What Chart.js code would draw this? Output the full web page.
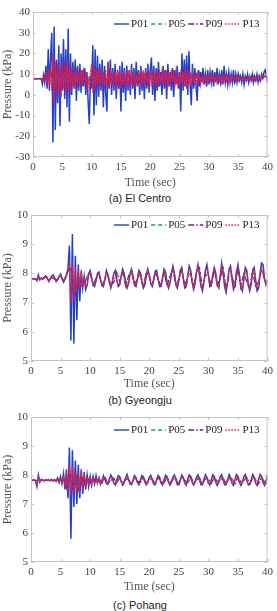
<!DOCTYPE html>
<html lang="en">
<head>
    <meta charset="UTF-8">
    <title>Pressure time histories</title>
    <script src="https://cdn.jsdelivr.net/npm/chart.js"></script>
    <style>
        body { margin: 0; background: #fff; }
        .page { position: relative; width: 277px; height: 611px; overflow: hidden; }
        .page canvas { position: absolute; left: 0; }
        .caption { position: absolute; left: 0; width: 280px; text-align: center; font-family: "Liberation Sans", Arial, sans-serif; font-size: 11px; line-height: 14px; color: #222; }
    </style>
</head>
<body>
<div class="page">
    <canvas id="chartA" width="277" height="190" style="top:0px"></canvas>
    <div class="caption" style="top:191px">(a) El Centro</div>
    <canvas id="chartB" width="277" height="191" style="top:200px"></canvas>
    <div class="caption" style="top:393px">(b) Gyeongju</div>
    <canvas id="chartC" width="277" height="189" style="top:405px"></canvas>
    <div class="caption" style="top:598px">(c) Pohang</div>
</div>

<script>
// ---- data (kPa), sampled at the step given for each group ----
const seriesLabels = ['P01', 'P05', 'P09', 'P13'];
const timeTicks = [0, 5, 10, 15, 20, 25, 30, 35, 40];

// (a) El Centro: P01/P13 every 0.2 s, P05/P09 every 0.5 s
const elCentroFineStep = 0.2;
const elCentroCoarseStep = 0.5;
const elCentroP01 = [
    7.8, 7.9, 7.7, 7.8, 7.9,   7.7, 7.9, 7.8, 5.2, 9.5,   6, 14, 3, 22, 2,   18, 30, -23, 33, -17,
    17, -4, 24, -15, 20,   2, 27, -2, 22, -6,   32, -13, 20, 0, 16,   3, 17, -3, 14, 2,
    15, 1, 12, 4, 13,   0, 11, -3, -14, 9,   3, 24, -10, 22, -5,   19, -1, 15, 2, 17,
    -6, 14, 1, -8, 16,   3, 17, 0, 13, 2,   15, -2, 12, 3, 14,   -8, 16, 1, 13, -3,
    14, 2, 12, 0, 15,   3, 13, -2, 16, 4,   12, 0, 14, 2, 11,   -2, 13, 3, 15, 1,
    12, 18, 0, 14, -3,   13, 2, 16, 4, 11,   0, 14, 3, 12, -2,   15, 4, 11, 2, 13,
    -1, 12, 5, 14, 3,   11, -8, 20, 2, 17,   4, 19, 0, 21, 5,   -5, 15, 3, 13, 5,
    -3, 12, 4, 11, 6,   13, 5, 10, 4, 12,   5, 11, 6, 12, 4,   11, 6, 13, 5, 10,
    6, 12, 5, 14, 6,   10, 5, 11, 6, 10,   6, 12, 5, 10, 6,   10, 7, 9, 6, 10,
    5, 9, 7, 10, 6,   9, 7, 10, 6, 9,   7, 10, 6, 9, 7,   10, 8, 11, 12, 9,
    6
];
const elCentroP13 = [
    7.8, 7.8, 7.8, 7.8, 7.8,   7.8, 7.8, 7.8, 7, 8.5,   7, 11, 5, 13, 4,   13, 2, 20, -5, 16,
    0, 15, 2, 14, -1,   16, 3, 15, 0, 17,   2, 14, 1, 13, 4,   12, 3, 13, 5, 11,
    4, 12, 5, 11, 6,   10, 4, 9, 2, 10,   15, 1, 14, 3, 12,   4, 13, 3, 12, 5,
    11, 4, 12, 3, 16,   4, 12, 5, 11, 4,   11, 5, 10, 4, 12,   3, 11, 5, 12, 4,
    10, 5, 11, 4, 10,   5, 12, 4, 10, 6,   11, 4, 10, 5, 12,   4, 10, 6, 11, 5,
    12, 4, 10, 5, 11,   5, 12, 4, 10, 6,   11, 5, 12, 6, 10,   5, 11, 4, 12, 6,
    10, 5, 11, 6, 10,   4, 12, 5, 11, 4,   13, 3, 12, 5, 11,   4, 10, 6, 9, 6,
    9, 6, 10, 5, 9,   6, 9, 7, 10, 6,   9, 6, 10, 7, 9,   7, 10, 6, 9, 7,
    10, 6, 9, 7, 10,   7, 9, 6, 10, 7,   9, 7, 8, 7, 9,   7, 9, 7, 8, 7,
    9, 7, 8, 7, 9,   7, 8, 7, 9, 7,   8, 7, 9, 7, 8,   9, 8, 9, 10, 8,
    8
];
const elCentroP05 = [
    7.8, 7.8, 7.8, 7.6, 8.2, 6.5, 9.5, 5.8, 10, 6,   9.8, 6.2, 9.5, 6.5, 9.2, 6.8, 9, 6.5, 9.3, 6.2,
    9.8, 6, 9.5, 6.5, 9.2, 6.8, 9.5, 6.5, 9, 6.8,   9.2, 6.6, 9, 7, 9.1, 6.8, 9, 6.9, 9.2, 6.7,
    9.3, 6.6, 9, 7, 9.1, 6.8, 9, 7, 9.2, 6.8,   9.4, 6.5, 9.5, 6.4, 9.2, 7, 8.8, 7.2, 8.6, 7.2,
    8.7, 7.3, 8.5, 7.2, 8.6, 7.4, 8.4, 7.3, 8.5, 7.4,   8.3, 7.5, 8.2, 7.4, 8.3, 7.5, 8.2, 7.6, 8.6, 8.8,
    8
];
const elCentroP09 = [
    7.8, 7.8, 7.8, 7.5, 9, 6, 12, 3, 14, 4,   13, 3, 12, 5, 11, 6, 10, 5, 11, 5,
    12, 4, 11, 5, 10, 6, 11, 5, 10, 6,   10, 5, 11, 6, 10, 5, 11, 6, 10, 5,
    11, 6, 10, 5, 11, 6, 10, 5, 11, 6,   10, 5, 11, 6, 10, 5, 11, 6, 9, 7,
    9, 7, 9, 7, 9, 7, 9, 7, 8, 7,   9, 7, 8, 7, 9, 7, 8, 7, 8, 9,
    8
];

// (b) Gyeongju: P01/P13 every 0.25 s, P05/P09 every 0.5 s
const gyeongjuFineStep = 0.25;
const gyeongjuCoarseStep = 0.5;
const gyeongjuP01 = [
    7.82, 7.82, 7.82, 7.82,  7.75, 7.95, 7.78, 7.85,  7.80, 7.88, 7.92, 7.85,  7.72, 7.80, 7.90, 7.95,
    7.85, 7.72, 7.78, 7.90,  7.98, 7.82, 7.70, 7.80,  7.95, 8.15, 8.95, 5.70,  9.35, 5.60, 8.60, 6.40,
    8.30, 7.05, 8.10, 7.50,  7.90, 7.45, 7.60, 8.00,  8.10, 7.85, 7.60, 7.55,  7.75, 8.00, 8.05, 7.80,
    7.60, 7.55, 7.80, 8.10,  7.95, 7.70, 7.50, 7.70,  8.00, 8.10, 7.80, 7.55,  7.60, 7.90, 8.15, 8.00,
    7.70, 7.50, 7.65, 8.00,  8.15, 7.90, 7.60, 7.55,  7.80, 8.10, 8.00, 7.70,  7.50, 7.60, 7.95, 8.15,
    7.95, 7.65, 7.55, 7.75,  8.05, 8.10, 7.80, 7.55,  7.55, 7.85, 8.15, 8.05,  7.70, 7.50, 7.65, 8.00,
    8.25, 8.00, 7.60, 7.50,  7.75, 8.10, 8.20, 7.85,  7.50, 7.55, 7.90, 8.25,  8.10, 7.70, 7.45, 7.65,
    8.05, 8.30, 7.95, 7.55,  7.40, 7.70, 8.10, 8.30,  7.95, 7.55, 7.60, 7.95,  8.20, 8.00, 7.60, 7.50,
    7.90, 8.35, 8.00, 7.55,  7.35, 7.70, 8.15, 8.25,  7.80, 7.45, 7.60, 8.05,  8.30, 7.95, 7.50, 7.40,
    7.80, 8.20, 8.10, 7.60,  7.40, 7.65, 8.10, 8.20,  7.75, 7.40, 7.50, 8.00,  8.35, 8.30, 7.80, 7.60,
    7.75
];
const gyeongjuP13 = [
    7.82, 7.82, 7.82, 7.82,  7.78, 7.90, 7.80, 7.84,  7.80, 7.86, 7.90, 7.84,  7.75, 7.80, 7.88, 7.92,
    7.84, 7.75, 7.79, 7.88,  7.95, 7.82, 7.73, 7.80,  7.90, 8.05, 8.30, 7.00,  8.40, 7.10, 8.20, 7.40,
    8.10, 7.50, 8.00, 7.60,  7.88, 7.55, 7.65, 7.95,  8.05, 7.85, 7.65, 7.60,  7.75, 7.98, 8.00, 7.80,
    7.65, 7.60, 7.80, 8.05,  7.92, 7.72, 7.55, 7.72,  7.98, 8.05, 7.80, 7.60,  7.65, 7.90, 8.10, 7.98,
    7.72, 7.55, 7.68, 7.98,  8.10, 7.90, 7.65, 7.60,  7.80, 8.05, 7.98, 7.72,  7.55, 7.65, 7.92, 8.10,
    7.92, 7.68, 7.60, 7.76,  8.02, 8.05, 7.80, 7.60,  7.60, 7.85, 8.10, 8.02,  7.72, 7.55, 7.68, 7.98,
    8.18, 7.98, 7.65, 7.55,  7.76, 8.05, 8.15, 7.85,  7.55, 7.60, 7.90, 8.18,  8.05, 7.72, 7.52, 7.68,
    8.02, 8.22, 7.92, 7.60,  7.48, 7.72, 8.05, 8.22,  7.92, 7.60, 7.64, 7.94,  8.15, 7.98, 7.64, 7.55,
    7.90, 8.25, 7.98, 7.60,  7.45, 7.72, 8.10, 8.18,  7.80, 7.52, 7.64, 8.02,  8.22, 7.92, 7.55, 7.48,
    7.80, 8.12, 8.05, 7.64,  7.48, 7.68, 8.05, 8.12,  7.76, 7.48, 7.55, 7.98,  8.22, 8.20, 7.80, 7.64,
    7.72
];
const gyeongjuP05 = [
    7.82, 7.82, 7.80, 7.80, 7.84, 7.88, 7.78, 7.86, 7.80, 7.78,
    7.92, 7.74, 7.95, 8.20, 8.00, 7.30, 7.95, 7.55, 7.60, 7.92,
    8.00, 7.62, 7.85, 7.98, 7.62, 7.78, 7.95, 7.62, 7.68, 8.05,
    7.70, 8.05, 7.58, 7.92, 8.05, 7.62, 7.82, 8.00, 7.58, 8.02,
    7.90, 7.62, 8.05, 7.78, 7.62, 8.05, 7.58, 7.92, 8.12, 7.62,
    7.78, 8.10, 7.58, 7.90, 8.00, 7.55, 8.05, 8.18, 7.52, 7.98,
    7.88, 7.62, 8.10, 7.62, 7.85, 8.15, 7.52, 7.90, 7.92, 7.52,
    8.15, 7.55, 8.00, 7.72, 7.55, 8.05, 7.55, 7.72, 8.12, 7.80,
    7.72
];
const gyeongjuP09 = [
    7.82, 7.82, 7.80, 7.82, 7.83, 7.87, 7.78, 7.85, 7.80, 7.80,
    7.93, 7.76, 7.95, 8.25, 8.05, 7.20, 7.95, 7.55, 7.62, 7.90,
    8.02, 7.62, 7.84, 7.98, 7.60, 7.78, 7.96, 7.60, 7.70, 8.05,
    7.72, 8.06, 7.56, 7.90, 8.06, 7.60, 7.82, 8.02, 7.56, 8.04,
    7.90, 7.60, 8.06, 7.76, 7.60, 8.08, 7.56, 7.92, 8.14, 7.60,
    7.78, 8.12, 7.54, 7.90, 8.02, 7.52, 8.06, 8.20, 7.50, 7.98,
    7.90, 7.60, 8.12, 7.60, 7.84, 8.18, 7.50, 7.90, 7.94, 7.50,
    8.18, 7.52, 8.02, 7.70, 7.52, 8.08, 7.52, 7.72, 8.15, 7.80,
    7.72
];

// (c) Pohang: P01/P13 every 0.25 s, P05/P09 every 0.5 s
const pohangFineStep = 0.25;
const pohangCoarseStep = 0.5;
const pohangP01 = [
    7.82, 7.82, 7.83, 7.82,  7.60, 8.00, 7.75, 7.85,  7.82, 7.80, 7.84, 7.81,  7.83, 7.80, 7.85, 7.79,
    7.84, 7.78, 7.90, 7.74,  7.95, 7.70, 8.05, 7.50,  8.20, 7.20, 8.95, 5.80,  8.85, 6.90, 8.50, 7.00,
    8.35, 7.20, 8.20, 7.35,  8.10, 7.50, 8.00, 7.60,  7.95, 7.65, 7.95, 7.70,  7.98, 7.72, 7.90, 7.68,
    7.80, 7.98, 7.85, 7.70,  7.68, 7.85, 8.00, 7.90,  7.72, 7.66, 7.82, 7.98,  7.95, 7.78, 7.65, 7.72,
    7.90, 8.02, 7.85, 7.68,  7.66, 7.80, 7.98, 7.92,  7.74, 7.66, 7.82, 7.98,  7.94, 7.76, 7.66, 7.74,
    7.92, 7.99, 7.84, 7.68,  7.66, 7.82, 7.99, 7.92,  7.72, 7.65, 7.83, 7.99,  7.95, 7.76, 7.65, 7.74,
    7.93, 8.00, 7.84, 7.67,  7.66, 7.83, 8.00, 7.92,  7.73, 7.65, 7.84, 8.00,  7.95, 7.76, 7.65, 7.74,
    7.93, 8.00, 7.84, 7.66,  7.66, 7.84, 8.01, 7.92,  7.72, 7.65, 7.84, 8.01,  7.95, 7.75, 7.64, 7.75,
    7.94, 8.01, 7.83, 7.66,  7.66, 7.84, 8.02, 7.92,  7.72, 7.64, 7.84, 8.02,  7.95, 7.75, 7.64, 7.75,
    7.95, 8.02, 7.83, 7.66,  7.66, 7.85, 8.02, 7.92,  7.72, 7.64, 7.85, 8.02,  7.95, 7.75, 7.64, 7.76,
    8.00
];
const pohangP13 = [
    7.82, 7.82, 7.82, 7.82,  7.70, 7.95, 7.78, 7.84,  7.82, 7.81, 7.83, 7.81,  7.82, 7.80, 7.84, 7.80,
    7.83, 7.79, 7.87, 7.77,  7.90, 7.74, 7.98, 7.60,  8.10, 7.45, 8.35, 7.30,  8.30, 7.40, 8.15, 7.45,
    8.10, 7.55, 8.00, 7.60,  7.98, 7.65, 7.92, 7.68,  7.90, 7.70, 7.90, 7.72,  7.92, 7.74, 7.88, 7.72,
    7.80, 7.93, 7.84, 7.73,  7.72, 7.84, 7.95, 7.88,  7.74, 7.70, 7.82, 7.93,  7.91, 7.78, 7.70, 7.75,
    7.87, 7.96, 7.84, 7.72,  7.70, 7.80, 7.93, 7.89,  7.76, 7.70, 7.82, 7.93,  7.90, 7.77, 7.70, 7.76,
    7.88, 7.94, 7.83, 7.72,  7.70, 7.82, 7.94, 7.89,  7.75, 7.69, 7.83, 7.94,  7.91, 7.77, 7.69, 7.76,
    7.89, 7.95, 7.83, 7.71,  7.70, 7.82, 7.95, 7.89,  7.75, 7.69, 7.83, 7.95,  7.91, 7.77, 7.69, 7.76,
    7.89, 7.95, 7.83, 7.70,  7.70, 7.83, 7.96, 7.89,  7.74, 7.69, 7.83, 7.96,  7.91, 7.76, 7.68, 7.76,
    7.90, 7.96, 7.82, 7.70,  7.70, 7.83, 7.96, 7.89,  7.74, 7.68, 7.83, 7.96,  7.91, 7.76, 7.68, 7.76,
    7.91, 7.96, 7.82, 7.70,  7.70, 7.84, 7.96, 7.89,  7.74, 7.68, 7.84, 7.96,  7.91, 7.76, 7.68, 7.77,
    7.95
];
const pohangP05 = [
    7.82, 7.82, 7.80, 7.84, 7.82, 7.82, 7.81, 7.83, 7.80, 7.83,
    7.78, 7.90, 7.60, 8.10, 7.50, 8.15, 7.55, 8.00, 7.65, 7.95,
    7.72, 7.90, 7.75, 7.88, 7.72, 7.92, 7.70, 7.82, 7.88, 7.72,
    7.90, 7.72, 7.86, 7.85, 7.70, 7.90, 7.78, 7.75, 7.92, 7.72,
    7.86, 7.86, 7.70, 7.90, 7.80, 7.72, 7.92, 7.75, 7.84, 7.88,
    7.70, 7.90, 7.82, 7.72, 7.92, 7.76, 7.83, 7.90, 7.70, 7.88,
    7.84, 7.70, 7.92, 7.77, 7.82, 7.90, 7.70, 7.88, 7.85, 7.70,
    7.92, 7.77, 7.82, 7.91, 7.70, 7.88, 7.86, 7.70, 7.92, 7.76,
    7.90
];
const pohangP09 = [
    7.82, 7.82, 7.81, 7.83, 7.82, 7.82, 7.82, 7.82, 7.81, 7.83,
    7.77, 7.92, 7.55, 8.20, 7.45, 8.20, 7.50, 8.05, 7.62, 7.96,
    7.72, 7.91, 7.74, 7.89, 7.72, 7.93, 7.70, 7.81, 7.89, 7.72,
    7.91, 7.72, 7.85, 7.86, 7.70, 7.91, 7.78, 7.74, 7.93, 7.72,
    7.85, 7.87, 7.70, 7.91, 7.79, 7.72, 7.93, 7.75, 7.83, 7.89,
    7.70, 7.91, 7.82, 7.71, 7.93, 7.76, 7.82, 7.91, 7.70, 7.88,
    7.85, 7.70, 7.93, 7.77, 7.81, 7.91, 7.70, 7.87, 7.86, 7.70,
    7.93, 7.77, 7.81, 7.92, 7.70, 7.87, 7.87, 7.70, 7.93, 7.76,
    7.88
];

// ---- styling ----
const SERIF = '"Liberation Serif", "Times New Roman", serif';
const seriesStyle = [
    { color: '#2340c8', dash: [], width: 1.5 },
    { color: '#1a9a78', dash: [4, 3], width: 1.1 },
    { color: '#7a1b7c', dash: [6, 2, 1.5, 2], width: 1.1 },
    { color: '#ee1b4d', dash: [1.5, 0.8], width: 1.3 }
];

function toPoints(values, step) {
    return values.map((v, i) => ({ x: Math.round(i * step * 100) / 100, y: v }));
}

// legend drawn inside the top-right corner of the plot box
const insideLegend = {
    id: 'insideLegend',
    afterDraw(chart) {
        const { ctx, chartArea } = chart;
        const y = chartArea.top + chart.options.plugins.insideLegend.offsetY;
        let x = chartArea.right - 8;
        ctx.save();
        ctx.font = '11px ' + SERIF;
        ctx.textBaseline = 'middle';
        const sets = chart.data.datasets.slice().reverse();
        sets.forEach(ds => {
            const w = ctx.measureText(ds.label).width;
            x -= w;
            ctx.fillStyle = '#222';
            ctx.fillText(ds.label, x, y);
            x -= 2;
            ctx.beginPath();
            ctx.setLineDash(ds.legendDash);
            ctx.strokeStyle = ds.borderColor;
            ctx.lineWidth = 1.4;
            ctx.moveTo(x - 15, y);
            ctx.lineTo(x, y);
            ctx.stroke();
            x -= 18;
        });
        ctx.restore();
    }
};

// box round the plot with short inward tick marks (MATLAB look)
const plotFrame = {
    id: 'plotFrame',
    afterDraw(chart) {
        const { ctx, chartArea: a, scales } = chart;
        ctx.save();
        ctx.strokeStyle = '#c4c4c4';
        ctx.lineWidth = 1;
        ctx.strokeRect(a.left + 0.5, a.top + 0.5, a.right - a.left - 1, a.bottom - a.top - 1);
        ctx.beginPath();
        scales.x.ticks.forEach(t => {
            const px = Math.round(scales.x.getPixelForValue(t.value)) + 0.5;
            ctx.moveTo(px, a.bottom); ctx.lineTo(px, a.bottom - 3);
            ctx.moveTo(px, a.top); ctx.lineTo(px, a.top + 3);
        });
        scales.y.ticks.forEach(t => {
            const py = Math.round(scales.y.getPixelForValue(t.value)) + 0.5;
            ctx.moveTo(a.left, py); ctx.lineTo(a.left + 3, py);
            ctx.moveTo(a.right, py); ctx.lineTo(a.right - 3, py);
        });
        ctx.stroke();
        ctx.restore();
    }
};

function makeChart(id, cfg) {
    const sets = [
        { values: cfg.p01, step: cfg.fine },
        { values: cfg.p05, step: cfg.coarse },
        { values: cfg.p09, step: cfg.coarse },
        { values: cfg.p13, step: cfg.fine }
    ];
    const datasets = sets.map((s, i) => ({
        label: seriesLabels[i],
        data: toPoints(s.values, s.step),
        borderColor: seriesStyle[i].color,
        borderDash: seriesStyle[i].dash,
        legendDash: i === 3 ? [1.5, 1.5] : seriesStyle[i].dash,
        borderWidth: seriesStyle[i].width,
        pointRadius: 0,
        tension: 0,
        fill: false,
        order: 4 - i
    }));

    return new Chart(document.getElementById(id), {
        type: 'line',
        data: { datasets },
        options: {
            responsive: false,
            animation: false,
            devicePixelRatio: 1,
            layout: { padding: { top: cfg.padTop, right: cfg.padRight, left: 0, bottom: 0 } },
            plugins: {
                legend: { display: false },
                tooltip: { enabled: false },
                insideLegend: { offsetY: cfg.legendY }
            },
            scales: {
                x: {
                    type: 'linear',
                    min: 0,
                    max: 40,
                    afterBuildTicks: s => { s.ticks = timeTicks.map(v => ({ value: v })); },
                    afterFit: s => { s.height = cfg.xHeight; },
                    grid: { display: false, drawTicks: false },
                    border: { display: false },
                    ticks: { padding: 4, maxRotation: 0, color: '#444', font: { family: SERIF, size: 11 } },
                    title: { display: true, text: 'Time (sec)', color: '#555', padding: { top: 0, bottom: 0 }, font: { family: SERIF, size: 12 } }
                },
                y: {
                    min: cfg.yMin,
                    max: cfg.yMax,
                    afterBuildTicks: s => { s.ticks = cfg.yTicks.map(v => ({ value: v })); },
                    afterFit: s => { s.width = cfg.yWidth; },
                    grid: { display: false, drawTicks: false },
                    border: { display: false },
                    ticks: { padding: 3, color: '#444', font: { family: SERIF, size: 11 } },
                    title: { display: true, text: 'Pressure (kPa)', color: '#555', padding: { top: 1, bottom: 0 }, font: { family: SERIF, size: 12 } }
                }
            }
        },
        plugins: [plotFrame, insideLegend]
    });
}

makeChart('chartA', {
    p01: elCentroP01, p05: elCentroP05, p09: elCentroP09, p13: elCentroP13,
    fine: elCentroFineStep, coarse: elCentroCoarseStep,
    yMin: -30, yMax: 40, yTicks: [-30, -20, -10, 0, 10, 20, 30, 40],
    padTop: 12, padRight: 5, yWidth: 33, xHeight: 33, legendY: 12
});
makeChart('chartB', {
    p01: gyeongjuP01, p05: gyeongjuP05, p09: gyeongjuP09, p13: gyeongjuP13,
    fine: gyeongjuFineStep, coarse: gyeongjuCoarseStep,
    yMin: 5, yMax: 10, yTicks: [5, 6, 7, 8, 9, 10],
    padTop: 15, padRight: 9, yWidth: 31, xHeight: 30, legendY: 10
});
makeChart('chartC', {
    p01: pohangP01, p05: pohangP05, p09: pohangP09, p13: pohangP13,
    fine: pohangFineStep, coarse: pohangCoarseStep,
    yMin: 5, yMax: 10, yTicks: [5, 6, 7, 8, 9, 10],
    padTop: 12, padRight: 9, yWidth: 31, xHeight: 32, legendY: 13
});
</script>
</body>
</html>
